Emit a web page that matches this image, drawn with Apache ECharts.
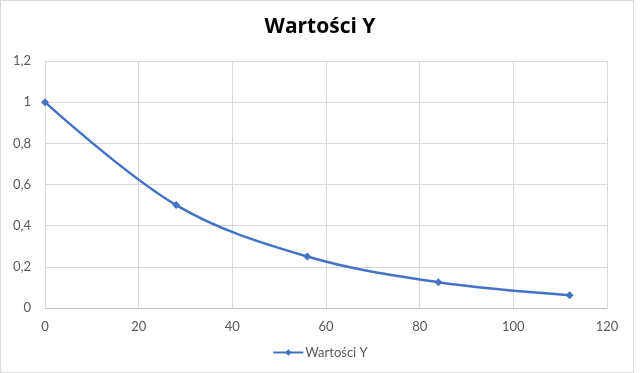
<!DOCTYPE html>
<html><head><meta charset="utf-8">
<script src="https://cdn.jsdelivr.net/npm/echarts@6/dist/echarts.min.js"></script>
<style>html,body{margin:0;padding:0;background:#fff}#w{position:relative;width:640px;height:373px}#c{width:640px;height:373px}#b{position:absolute;left:0;top:0;width:634px;height:373px;box-sizing:border-box;border:1px solid #d9d9d9;pointer-events:none}</style>
</head><body><div id="w"><div id="c"></div><div id="b"></div></div>
<script>
const title = 'Wartości Y';
const seriesName = 'Wartości Y';
const xValues = [0, 28, 56, 84, 112];
const yValues = [1, 0.5, 0.25, 0.125, 0.0625];
const data = xValues.map((x, i) => [x, yValues[i]]);
const font = 'Lato, "Open Sans", sans-serif';
const chart = echarts.init(document.getElementById('c'));
chart.setOption({
  animation: false,
  title: { text: title, left: 'center', top: 12, textStyle: { fontFamily: '"Open Sans", sans-serif', fontSize: 21, fontWeight: 'bold', color: '#000' } },
  legend: { bottom: 9, left: 'center', itemWidth: 30, itemHeight: 8, itemGap: 10, textStyle: { fontFamily: font, fontSize: 13, color: '#595959', padding: [0,0,0,-3] }, data: [seriesName] },
  grid: { left: 45, right: 33, top: 61, bottom: 65, containLabel: false },
  xAxis: { type: 'value', min: 0, max: 120, interval: 20,
    axisLine: { show: true, lineStyle: { color: '#bfbfbf' } }, axisTick: { show: false },
    axisLabel: { color: '#595959', fontFamily: font, fontSize: 13, margin: 12 },
    splitLine: { show: true, lineStyle: { color: '#d9d9d9' } } },
  yAxis: { type: 'value', min: 0, max: 1.2, interval: 0.2,
    axisLine: { show: false }, axisTick: { show: false },
    axisLabel: { color: '#595959', fontFamily: font, fontSize: 13, margin: 14, formatter: v => String(Math.round(v*10)/10).replace('.', ',') },
    splitLine: { show: true, lineStyle: { color: '#d9d9d9' } } },
  series: [{ name: seriesName, type: 'line', data: data, smooth: 0.35, symbol: 'diamond', symbolSize: 8,
    lineStyle: { color: '#4472C4', width: 2.5 }, itemStyle: { color: '#4472C4' } }]
});
</script></body></html>
